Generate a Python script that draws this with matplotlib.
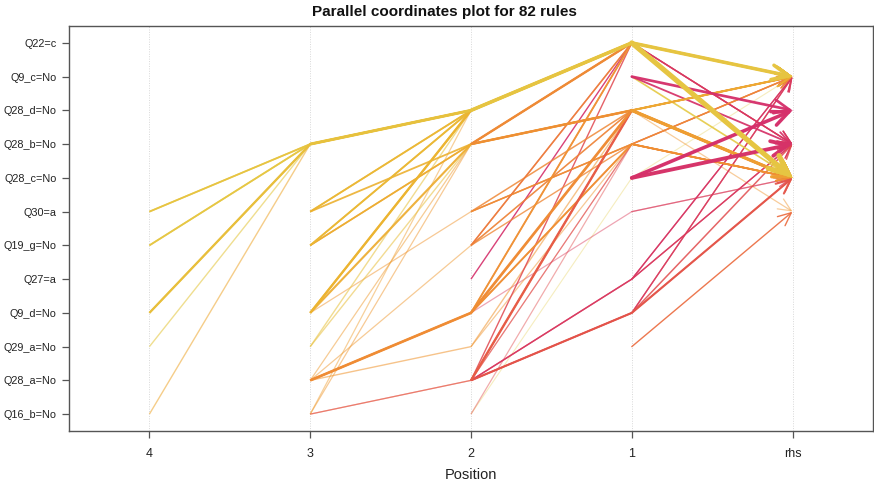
import matplotlib
matplotlib.use("Agg")
import matplotlib.pyplot as plt
from matplotlib.colors import LinearSegmentedColormap, Normalize, to_rgba
from matplotlib.patches import FancyArrowPatch
import numpy as np

plt.rcParams['font.family'] = ['Liberation Sans', 'DejaVu Sans']

# item labels, bottom to top on the vertical axis
items = ["Q16_b=No", "Q28_a=No", "Q29_a=No", "Q9_d=No", "Q27=a", "Q19_g=No",
         "Q30=a", "Q28_c=No", "Q28_b=No", "Q28_d=No", "Q9_c=No", "Q22=c"]
positions = ["4", "3", "2", "1", "rhs"]

A, B, C, D = "Q22=c", "Q9_c=No", "Q28_d=No", "Q28_b=No"
E, F, G, H = "Q28_c=No", "Q30=a", "Q19_g=No", "Q27=a"
I, J, K, L = "Q9_d=No", "Q29_a=No", "Q28_a=No", "Q16_b=No"

# rules: lhs items ordered from leftmost position to position 1
lhs = [
    [F, D, C, A], [G, D, C, A], [I, D, C, A], [J, D, C, A], [L, D, C, A],
    [F, D, C, A], [G, D, C, A], [I, D, C, A],
    [D, C, A], [D, C, A], [F, C, A], [F, C, A], [F, D, C], [G, C, A], [G, C, A],
    [G, D, A], [G, D, C], [I, C, A], [I, C, A], [I, D, C], [I, F, D], [J, C, A],
    [J, D, A], [K, I, C], [K, I, D], [K, I, A], [K, J, C], [K, D, A], [K, G, C],
    [L, K, D], [L, D, C], [L, C, A],
    [C, A], [C, A], [D, A], [D, A], [D, C], [D, C], [F, C], [F, D], [F, D],
    [G, A], [G, C], [G, A], [H, A], [L, D], [K, C], [K, H], [K, H], [K, I],
    [K, I], [I, F], [K, D], [L, E], [K, A], [I, A], [I, C],
    [A], [A], [A], [B], [B], [B], [E], [E], [J], [D], [D], [C], [C], [C], [F],
    [H], [H], [I], [I],
    [I, D], [K, C], [K, I], [J, D], [G, D], [L, K, C],
]
rhs = [
    E, E, E, B, E,
    B, B, B,
    E, B, E, B, E, B, E,
    E, E, E, B, B, E, E,
    B, E, E, E, E, E, E,
    E, E, B,
    E, B, E, B, E, B, B, E, B,
    E, E, B, D, B, E, B, D, E,
    D, E, B, B, D, E, E,
    B, E, D, C, D, E, C, D, F, B, E, F, E, B, E,
    B, D, B, E,
    E, B, B, E, E, E,
]
support = [
    0.10, 0.10, 0.13, 0.07, 0.07,
    0.08, 0.08, 0.09,
    0.18, 0.14, 0.10, 0.08, 0.10, 0.10, 0.09,
    0.09, 0.08, 0.13, 0.11, 0.12, 0.06, 0.07,
    0.07, 0.16, 0.10, 0.10, 0.07, 0.06, 0.06,
    0.06, 0.06, 0.06,
    0.22, 0.15, 0.14, 0.08, 0.14, 0.08, 0.08, 0.08, 0.07,
    0.08, 0.08, 0.07, 0.07, 0.06, 0.14, 0.07, 0.07, 0.12,
    0.08, 0.06, 0.05, 0.05, 0.07, 0.07, 0.09,
    0.22, 0.33, 0.07, 0.16, 0.10, 0.09, 0.22, 0.24, 0.07, 0.08, 0.09, 0.06, 0.20, 0.09, 0.06,
    0.06, 0.06, 0.06, 0.07,
    0.08, 0.08, 0.07, 0.06, 0.07, 0.06,
]
confidence = [
    0.92, 0.92, 0.95, 0.62, 0.60,
    0.85, 0.85, 0.88,
    0.95, 0.92, 0.92, 0.88, 0.90, 0.90, 0.90,
    0.90, 0.88, 0.95, 0.92, 0.92, 0.55, 0.60,
    0.58, 0.95, 0.90, 0.90, 0.60, 0.55, 0.55,
    0.60, 0.55, 0.52,
    0.97, 0.93, 0.92, 0.85, 0.92, 0.85, 0.85, 0.85, 0.80,
    0.85, 0.85, 0.80, 0.90, 0.50, 0.92, 0.88, 0.88, 0.92,
    0.85, 0.50, 0.48, 0.40, 0.85, 0.85, 0.88,
    0.97, 0.98, 0.90, 0.95, 0.92, 0.90, 0.97, 0.97, 0.90, 0.88, 0.90, 0.52, 0.95, 0.90, 0.62,
    0.85, 0.85, 0.85, 0.88,
    0.85, 0.85, 0.85, 0.55, 0.80, 0.55,
]
lift = [
    1.06, 1.04, 1.10, 1.03, 1.25,
    1.05, 1.05, 1.12,
    1.08, 1.10, 1.15, 1.18, 1.20, 1.15, 1.14,
    1.22, 1.25, 1.18, 1.16, 1.22, 1.35, 1.08,
    1.10, 1.40, 1.38, 1.36, 1.35, 1.32, 1.33,
    1.65, 1.34, 1.30,
    1.05, 1.08, 1.42, 1.48, 1.40, 1.45, 1.42, 1.40, 1.45,
    1.48, 1.45, 1.50, 1.90, 1.70, 1.62, 1.85, 1.82, 1.66,
    1.70, 1.80, 1.78, 1.00, 1.72, 1.55, 1.45,
    1.05, 1.05, 1.85, 1.90, 1.88, 1.02, 1.90, 1.88, 1.55, 1.42, 1.40, 1.35, 1.30, 1.38, 1.80,
    1.85, 1.82, 1.86, 1.65,
    1.42, 1.62, 1.80, 1.35, 1.42, 1.62,
]

cmap = LinearSegmentedColormap.from_list(
    "heat", ["#E4CC48", "#ECB431", "#F09533", "#EC6D3E", "#E0474F", "#D5306B"])
norm = Normalize(vmin=min(lift), vmax=max(lift))
s_min, s_max = min(support), max(support)
c_min, c_max = min(confidence), max(confidence)

fig = plt.figure(figsize=(8.74, 4.86), dpi=100)
ax = fig.add_axes([69 / 874, 1 - 431 / 486, 804 / 874, 405 / 486])

n_pos = len(positions)
for k in range(n_pos):
    ax.axvline(k + 1, color="#d8d8d8", lw=0.7, ls=(0, (1, 1.5)), zorder=0)

ypos = {name: i + 1 for i, name in enumerate(items)}
order = np.argsort(support, kind="stable")
for r in order:
    xs = list(range(n_pos - len(lhs[r]), n_pos)) + [n_pos]
    ys = [ypos[it] for it in lhs[r]] + [ypos[rhs[r]]]
    lw = 0.8 + (support[r] - s_min) / (s_max - s_min) * 2.9
    alpha = 0.35 + 0.65 * (confidence[r] - c_min) / (c_max - c_min)
    col = to_rgba(cmap(norm(lift[r])), alpha)
    if len(xs) > 2:
        ax.plot(xs[:-1], ys[:-1], color=col, lw=lw, solid_capstyle="butt",
                solid_joinstyle="round", zorder=2)
    arr = FancyArrowPatch((xs[-2], ys[-2]), (xs[-1], ys[-1]),
                          arrowstyle="->,head_length=0.8,head_width=0.36",
                          mutation_scale=10 + 1.8 * lw, lw=lw, color=col,
                          shrinkA=0, shrinkB=0, joinstyle="miter", zorder=2)
    ax.add_patch(arr)

ax.set_xlim(0.5, n_pos + 0.5)
ax.set_ylim(0.5, len(items) + 0.5)
ax.set_xticks(range(1, n_pos + 1))
ax.set_xticklabels(positions)
ax.set_yticks(range(1, len(items) + 1))
ax.set_yticklabels(items)
ax.tick_params(axis="both", length=5, width=0.9, color="#555555",
               labelcolor="#222222", pad=4)
ax.tick_params(axis="y", labelsize=7.8)
ax.tick_params(axis="x", labelsize=9, pad=7)
for sp in ax.spines.values():
    sp.set_color("#555555")
    sp.set_linewidth(1.0)

ax.set_xlabel("Position", fontsize=10.5, color="#222222", labelpad=6)
fig.text(444 / 874, 1 - 12 / 486, "Parallel coordinates plot for 82 rules",
         fontsize=11, fontweight="bold", color="#111111",
         ha="center", va="center")

fig.savefig("out.png", dpi=100)
